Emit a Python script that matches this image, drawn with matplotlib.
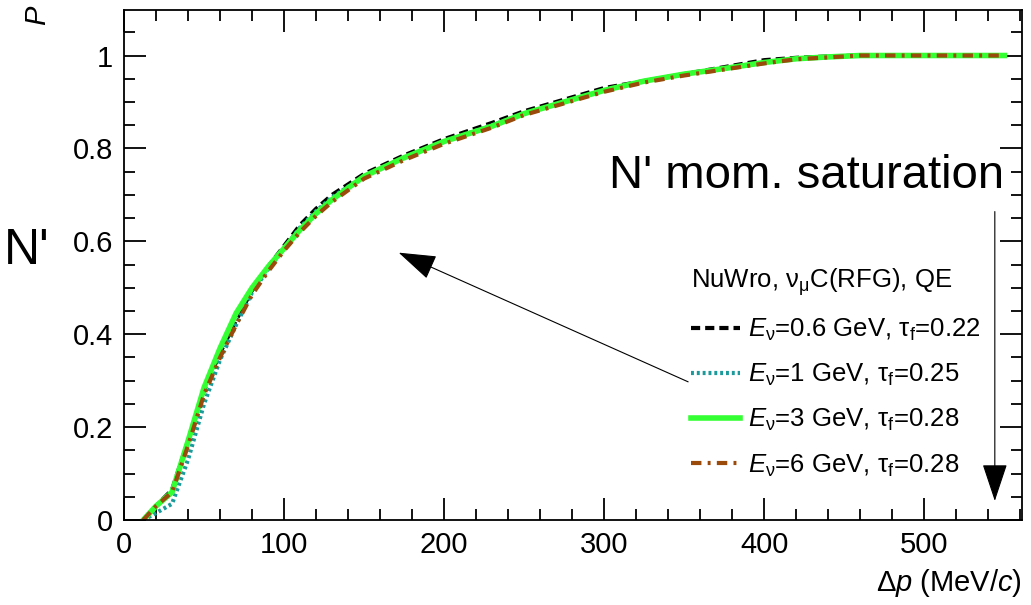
import matplotlib
matplotlib.use("Agg")
import matplotlib.pyplot as plt
from matplotlib.ticker import MultipleLocator

plt.rcParams['font.family'] = ['Liberation Sans', 'DejaVu Sans']
plt.rcParams['mathtext.fontset'] = 'custom'
plt.rcParams['mathtext.rm'] = 'Liberation Sans'
plt.rcParams['mathtext.it'] = 'Liberation Sans:italic'

# momentum difference (MeV/c) and cumulative probability per sample
dp = [12, 20, 30, 40, 50, 60, 70, 80, 90, 100, 110, 120, 130, 150, 175, 200, 230,
      250, 275, 300, 325, 350, 375, 400, 420, 440, 460, 500, 550]
p_06 = [0.0, 0.03, 0.065, 0.17, 0.28, 0.36, 0.43, 0.495, 0.545, 0.59, 0.635, 0.67,
        0.70, 0.745, 0.785, 0.82, 0.855, 0.88, 0.905, 0.93, 0.945, 0.96, 0.975,
        0.99, 0.995, 0.998, 1.0, 1.0, 1.0]
p_1 = [0.0, 0.015, 0.035, 0.13, 0.25, 0.345, 0.42, 0.49, 0.54, 0.585, 0.63, 0.665,
       0.695, 0.74, 0.78, 0.815, 0.85, 0.875, 0.9, 0.925, 0.945, 0.96, 0.972,
       0.985, 0.993, 0.997, 1.0, 1.0, 1.0]
p_3 = [0.0, 0.03, 0.06, 0.17, 0.285, 0.37, 0.445, 0.5, 0.545, 0.585, 0.625, 0.66,
       0.69, 0.74, 0.78, 0.815, 0.848, 0.875, 0.9, 0.925, 0.945, 0.96, 0.972,
       0.985, 0.993, 0.997, 1.0, 1.0, 1.0]
p_6 = [0.0, 0.03, 0.06, 0.16, 0.27, 0.35, 0.42, 0.485, 0.535, 0.58, 0.62, 0.655,
       0.685, 0.735, 0.775, 0.81, 0.845, 0.872, 0.897, 0.922, 0.942, 0.957, 0.97,
       0.983, 0.992, 0.996, 1.0, 1.0, 1.0]

labels = [r"$E_{\mathrm{ν}}$=0.6 GeV, τ$_{\mathrm{f}}$=0.22",
          r"$E_{\mathrm{ν}}$=1 GeV, τ$_{\mathrm{f}}$=0.25",
          r"$E_{\mathrm{ν}}$=3 GeV, τ$_{\mathrm{f}}$=0.28",
          r"$E_{\mathrm{ν}}$=6 GeV, τ$_{\mathrm{f}}$=0.28"]

fig = plt.figure(figsize=(10.31, 6.05), dpi=100)
ax = fig.add_axes([0.1203, 0.1405, 0.871, 0.843])

ax.plot(dp, p_06, color='black', ls=(0, (2.2, 1.2)), lw=3, label=labels[0])
ax.plot(dp, p_1, color='#1a9a9a', ls=(0, (0.7, 0.7)), lw=3, label=labels[1])
ax.plot(dp, p_3, color='#33ff33', ls='-', lw=4, label=labels[2])
ax.plot(dp, p_6, color='#9a4a0a', ls=(0, (2.5, 1.5, 0.7, 1.5)), lw=3, label=labels[3])

ax.set_xlim(0, 561)
ax.set_ylim(0, 1.098)
ax.xaxis.set_major_locator(MultipleLocator(100))
ax.xaxis.set_minor_locator(MultipleLocator(20))
ax.yaxis.set_major_locator(MultipleLocator(0.2))
ax.yaxis.set_minor_locator(MultipleLocator(0.05))
ax.yaxis.set_major_formatter(plt.FuncFormatter(lambda v, p: ('%g' % round(v, 2))))
ax.tick_params(which='both', direction='in', top=True, right=True, labelsize=21,
               width=1.3, pad=8)
ax.tick_params(which='major', length=16)
ax.tick_params(which='minor', length=8)
for s in ax.spines.values():
    s.set_linewidth(1.3)

ax.set_xlabel(r"$\Delta p$ (MeV/$c$)", fontsize=21, loc='right', labelpad=6)
fig.text(0.037, 0.975, r"$P$", fontsize=21, rotation=90, ha='center', va='center')
fig.text(0.004, 0.585, "N'", fontsize=36, va='center')

ax.text(0.98, 0.675, "N' mom. saturation", transform=ax.transAxes, fontsize=34,
        ha='right', va='center')
head = '-|>,head_length=2.4,head_width=0.8'
ax.annotate("", xy=(544, 0.035), xytext=(544, 0.67),
            arrowprops=dict(arrowstyle=head, color='black', lw=0.8))
ax.annotate("", xy=(170, 0.578), xytext=(354, 0.295),
            arrowprops=dict(arrowstyle=head, color='black', lw=0.8))

leg = ax.legend(loc='upper left', bbox_to_anchor=(0.62, 0.518), frameon=False,
                fontsize=18.5, title=r"NuWro, ν$_{\mathrm{μ}}$C(RFG), QE",
                title_fontsize=18.5, alignment='left', handlelength=1.9,
                labelspacing=0.74, handletextpad=0.3, borderaxespad=0)

fig.savefig("out.png", dpi=100)
